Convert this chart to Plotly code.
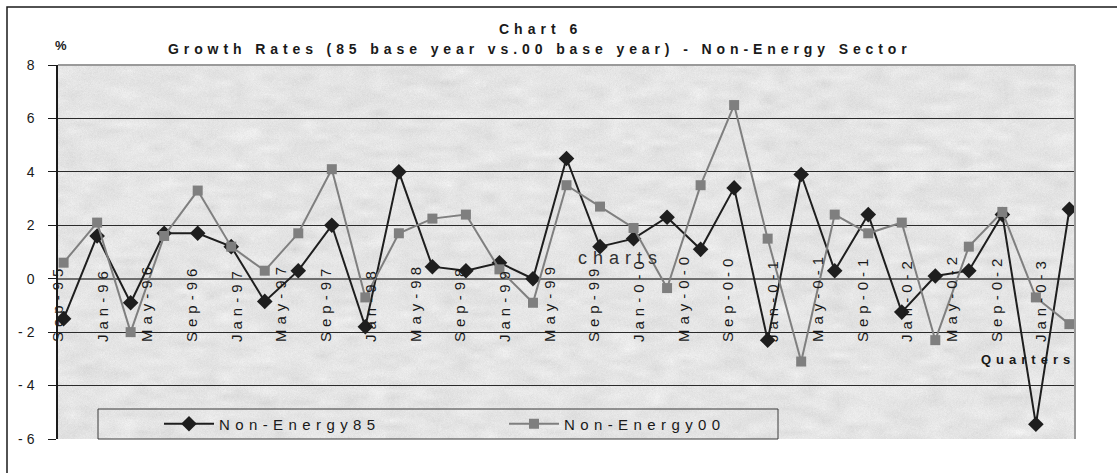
import base64
import struct
import zlib

import numpy as np
import plotly.graph_objects as go

# Quarterly observations (month of quarter end)
quarters = [
    "1995-09", "1995-12", "1996-03", "1996-06", "1996-09", "1996-12",
    "1997-03", "1997-06", "1997-09", "1997-12", "1998-03", "1998-06",
    "1998-09", "1998-12", "1999-03", "1999-06", "1999-09", "1999-12",
    "2000-03", "2000-06", "2000-09", "2000-12", "2001-03", "2001-06",
    "2001-09", "2001-12", "2002-03", "2002-06", "2002-09", "2002-12",
    "2003-03",
]

non_energy_85 = [
    -1.5, 1.6, -0.9, 1.7, 1.7, 1.2, -0.85, 0.3, 2.0, -1.8, 4.0, 0.45,
    0.3, 0.6, 0.0, 4.5, 1.2, 1.5, 2.3, 1.1, 3.4, -2.3, 3.9, 0.3,
    2.4, -1.25, 0.1, 0.3, 2.4, -5.45, 2.6,
]

non_energy_00 = [
    0.6, 2.1, -2.0, 1.6, 3.3, 1.2, 0.3, 1.7, 4.1, -0.7, 1.7, 2.25,
    2.4, 0.35, -0.9, 3.5, 2.7, 1.9, -0.35, 3.5, 6.5, 1.5, -3.1, 2.4,
    1.7, 2.1, -2.3, 1.2, 2.5, -0.7, -1.7,
]

# Category labels every four months on the date axis
tick_months = ["1995-09", "1996-01", "1996-05", "1996-09", "1997-01", "1997-05",
               "1997-09", "1998-01", "1998-05", "1998-09", "1999-01", "1999-05",
               "1999-09", "2000-01", "2000-05", "2000-09", "2001-01", "2001-05",
               "2001-09", "2002-01", "2002-05", "2002-09", "2003-01"]
tick_labels = ["Sep-95", "Jan-96", "May-96", "Sep-96", "Jan-97", "May-97",
               "Sep-97", "Jan-98", "May-98", "Sep-98", "Jan-99", "May-99",
               "Sep-99", "Jan-0-0", "May-0-0", "Sep-0-0", "Jan-0-1", "May-0-1",
               "Sep-0-1", "Jan-0-2", "May-0-2", "Sep-0-2", "Jan-0-3"]

y_ticks = [8, 6, 4, 2, 0, -2, -4, -6]


def month_index(s):
    y, m = s.split("-")
    return (int(y) - 1995) * 12 + int(m) - 9


def spaced(t, px):
    return f'<span style="letter-spacing:{px}px">{t}</span>'


x = [month_index(q) for q in quarters]
tick_x = [month_index(t) - 0.5 for t in tick_months]

FONT = "Arial, Liberation Sans, sans-serif"
W, H = 1117, 473
L, R, T, B = 58, 42, 65, 34
PW, PH = W - L - R, H - T - B


def px_x(p):
    return (p - L) / PW


def px_y(p):
    return (H - B - p) / PH


def paper_texture(w, h, seed=7):
    """Mottled light-grey fill for the plot area, returned as a PNG data URI."""
    rng = np.random.default_rng(seed)
    cw, ch = w // 14 + 2, h // 6 + 2
    coarse = rng.normal(0, 1, (ch, cw))
    xs = np.linspace(0, cw - 1, w)
    ys = np.linspace(0, ch - 1, h)
    rows = np.array([np.interp(xs, np.arange(cw), r) for r in coarse])
    field = np.array([np.interp(ys, np.arange(ch), c) for c in rows.T]).T
    fine = rng.normal(0, 1, (h, w))
    img = 229 + 4.0 * field + 2.5 * fine
    img = np.clip(img, 0, 255).astype(np.uint8)
    raw = b"".join(b"\x00" + row.tobytes() for row in img)

    def chunk(tag, data):
        body = tag + data
        return struct.pack(">I", len(data)) + body + struct.pack(">I", zlib.crc32(body) & 0xFFFFFFFF)

    png = (b"\x89PNG\r\n\x1a\n"
           + chunk(b"IHDR", struct.pack(">IIBBBBB", w, h, 8, 0, 0, 0, 0))
           + chunk(b"IDAT", zlib.compress(raw, 9))
           + chunk(b"IEND", b""))
    return "data:image/png;base64," + base64.b64encode(png).decode()


fig = go.Figure()

fig.add_trace(go.Scatter(
    x=x, y=non_energy_85, mode="lines+markers",
    name=spaced("Non-Energy85", 5.4),
    line=dict(color="#1e1e1e", width=2),
    marker=dict(symbol="diamond", size=12, color="#1e1e1e"),
))
fig.add_trace(go.Scatter(
    x=x, y=non_energy_00, mode="lines+markers",
    name=spaced("Non-Energy00", 5.4),
    line=dict(color="#7f7f7f", width=2),
    marker=dict(symbol="square", size=10, color="#7f7f7f"),
))

fig.update_layout(
    width=W, height=H,
    margin=dict(l=L, r=R, t=T, b=B, pad=0),
    paper_bgcolor="white",
    plot_bgcolor="rgba(0,0,0,0)",
    font=dict(family=FONT, size=14, color="#1a1a1a"),
    images=[dict(source=paper_texture(PW, PH), xref="paper", yref="paper",
                 x=0, y=1, sizex=1, sizey=1, xanchor="left", yanchor="top",
                 sizing="stretch", layer="below")],
    xaxis=dict(
        range=[-0.5, 90.5],
        tickmode="array", tickvals=tick_x,
        ticktext=[spaced(t, 5) for t in tick_labels],
        tickangle=-90, ticks="", showgrid=False, zeroline=False,
        showline=False, anchor="free", position=px_y(342), side="top",
        tickfont=dict(size=15, family=FONT, color="#1a1a1a"),
    ),
    yaxis=dict(
        range=[-6, 8], tickmode="array", tickvals=y_ticks,
        ticktext=[spaced(str(v), 4) for v in y_ticks],
        ticks="outside", ticklen=8, tickcolor="#1a1a1a",
        showline=True, linecolor="#1a1a1a", linewidth=1.5,
        showgrid=True, gridcolor="#2a2a2a", gridwidth=1,
        zeroline=True, zerolinecolor="#6e6e6e", zerolinewidth=1.5,
        ticklabelstandoff=7,
        tickfont=dict(size=14, family=FONT, color="#1a1a1a"),
    ),
    legend=dict(
        orientation="h", x=px_x(159), y=px_y(424), xanchor="left", yanchor="middle",
        bgcolor="rgba(0,0,0,0)", borderwidth=0,
        entrywidth=280, entrywidthmode="pixels", itemwidth=50,
        font=dict(size=15, family=FONT, color="#1a1a1a"),
    ),
    showlegend=True,
)

# Plot-area frame (grey top and right edges), legend box and outer frame
shapes = [
    dict(type="line", xref="paper", yref="paper", x0=0, x1=1, y0=1, y1=1,
         line=dict(color="#9a9a9a", width=2)),
    dict(type="line", xref="paper", yref="paper", x0=1, x1=1, y0=0, y1=1,
         line=dict(color="#9a9a9a", width=2)),
    dict(type="rect", xref="paper", yref="paper",
         x0=px_x(98), x1=px_x(778), y0=px_y(439), y1=px_y(409),
         line=dict(color="#3a3a3a", width=1), layer="below"),
    dict(type="path", xref="paper", yref="paper",
         path=f"M {px_x(7)},{px_y(480)} L {px_x(7)},{px_y(7)} L {px_x(1125)},{px_y(7)}",
         line=dict(color="#1a1a1a", width=1.5)),
]
fig.update_layout(shapes=shapes)

title_font = dict(size=14, family=FONT, color="#1a1a1a")


def note(text, cx, cy, font):
    return dict(text=text, xref="paper", yref="paper", x=px_x(cx), y=px_y(cy),
                xanchor="center", yanchor="middle", showarrow=False, font=font)


annotations = [
    note("<b>" + spaced("Chart 6", 5) + "</b>", 540, 29, title_font),
    note("<b>" + spaced("Growth Rates (85 base year vs.00 base year) - Non-Energy Sector", 4.9)
         + "</b>", 540, 49, title_font),
    note("<b>%</b>", 61, 45, dict(size=13, family=FONT, color="#1a1a1a")),
    note(spaced("charts", 6), 620, 258, dict(size=18, family=FONT, color="#333333")),
    note("<b>" + spaced("Quarters", 5) + "</b>", 1028, 359,
         dict(size=13, family=FONT, color="#1a1a1a")),
]
fig.update_layout(annotations=annotations)

fig.write_html("out.html")
